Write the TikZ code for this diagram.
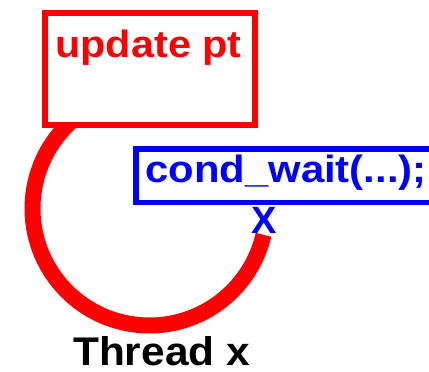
\documentclass[tikz,border=0pt]{standalone}
\usepackage{fontspec}
\setmainfont{Liberation Sans}
\definecolor{loopred}{RGB}{255,0,0}
\definecolor{waitblue}{RGB}{0,0,255}
\tikzset{
  redbox/.style={draw=loopred, line width=6pt, fill=white, rectangle, inner sep=0pt},
  bluebox/.style={draw=waitblue, line width=5.5pt, fill=white, rectangle, inner sep=0pt},
  looparc/.style={draw=loopred, line width=16pt},
  lbl/.style={inner sep=0pt, anchor=base, font=\bfseries\fontsize{38}{44}\selectfont}
}
\begin{document}
\begin{tikzpicture}[x=1pt,y=1pt]
  \clip (0,0) rectangle (429,372);
  \fill[white] (0,0) rectangle (429,372);
  % the thread's loop, running out of the update box down and round
  \coordinate (loopc) at (149.5,163.5);
  \draw[looparc] ([shift={(125:117)}]loopc) arc[start angle=125, end angle=347, radius=117];
  % boxes
  \node[redbox, minimum width=209.4pt, minimum height=112pt] (upd) at (150,303) {};
  \node[lbl, text=loopred] (updtxt) at (148.5,314) {\scalebox{1.09}[1]{update pt}};
  \node[bluebox, minimum width=314pt, minimum height=53.5pt] (wait) at (293,196.25) {};
  \node[lbl, text=waitblue] (waittxt) at (286,189.5) {\scalebox{1.1}[1]{cond\_wait(...);}};
  \node[lbl, text=waitblue, font=\bfseries\fontsize{38}{44}\selectfont] (xmark) at (264.5,138.5) {X};
  \node[lbl, text=black, font=\bfseries\fontsize{40}{46}\selectfont] (thread) at (161.5,6) {\scalebox{1.06}[1]{Thread x}};
\end{tikzpicture}
\end{document}
